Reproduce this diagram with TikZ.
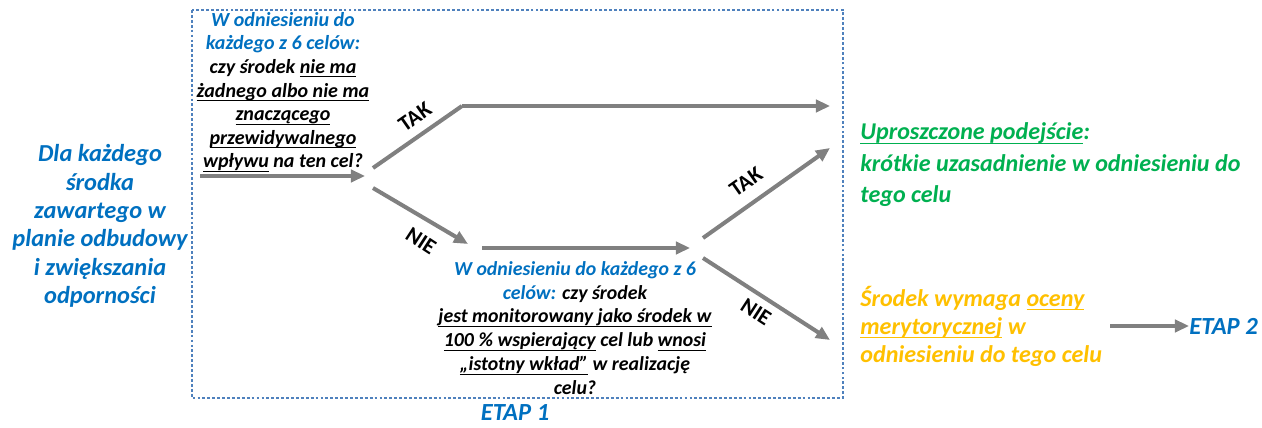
\documentclass[tikz,border=0pt]{standalone}
\usepackage{fontspec}
\setmainfont{Carlito}
\usetikzlibrary{arrows.meta}
\definecolor{etapblue}{RGB}{0,112,192}
\definecolor{okgreen}{RGB}{0,176,80}
\definecolor{warnorange}{RGB}{255,192,0}
\definecolor{arrowgray}{RGB}{128,128,128}
\definecolor{frameblue}{RGB}{79,129,189}
\newcommand\undl[1]{\setbox0\hbox{#1}\rlap{\rule[-2.3pt]{\wd0}{0.6pt}}\box0\relax}
\tikzset{
  txt/.style={font=\bfseries\itshape, inner sep=0pt},
  flow/.style={draw=arrowgray, line width=2.3pt, -{Triangle[length=8pt,width=7pt]}},
  flowline/.style={draw=arrowgray, line width=2.3pt},
  branch/.style={font=\bfseries\fontsize{12.5}{14}\selectfont, inner sep=0pt}
}

\begin{document}
\begin{tikzpicture}[x=0.02cm,y=-0.02cm]
\useasboundingbox (0,0) rectangle (1262,428);
\draw[frameblue, line width=0.6pt, dash pattern=on 1.6pt off 1.2pt] (192,10) rectangle (843,398);

\node[txt, etapblue, align=center, font=\bfseries\itshape\fontsize{13.9}{16.1}\selectfont] (dla) at (100,226)
  {Dla każdego\\środka\\zawartego w\\planie odbudowy\\i zwiększania\\odporności};

\node[txt, align=center, font=\bfseries\itshape\fontsize{11.4}{13.4}\selectfont] (pyt1) at (283,92)
  {\textcolor{etapblue}{W odniesieniu do}\\\textcolor{etapblue}{każdego z 6 celów:}\\
   czy środek \undl{nie ma}\\\undl{żadnego albo nie ma}\\\undl{znaczącego}\\
   \undl{przewidywalnego}\\\undl{wpływu} na ten cel?};

\node[txt, align=center, font=\bfseries\itshape\fontsize{11.3}{13.6}\selectfont] (pyt2) at (575,328)
  {\textcolor{etapblue}{W odniesieniu do każdego z 6}\\\textcolor{etapblue}{celów:} czy środek\\
   \undl{jest monitorowany jako środek w}\\\undl{100 \% wspierający} cel lub \undl{wnosi}\\
   \undl{„istotny wkład”} w realizację\\celu?};

\node[txt, okgreen, align=left, anchor=west, font=\bfseries\itshape\fontsize{13.7}{17.9}\selectfont] (uproszcz) at (860,165)
  {\undl{Uproszczone podejście}:\\krótkie uzasadnienie w odniesieniu do\\tego celu};

\node[txt, warnorange, align=left, anchor=west, font=\bfseries\itshape\fontsize{13.7}{15.9}\selectfont] (ocena) at (860,326)
  {Środek wymaga \undl{oceny}\\\undl{merytorycznej} w\\odniesieniu do tego celu};

\node[txt, etapblue, anchor=west, font=\bfseries\itshape\fontsize{14}{16}\selectfont] (etap2) at (1189,326) {ETAP 2};
\node[txt, etapblue, font=\bfseries\itshape\fontsize{14}{16}\selectfont] (etap1) at (515,413) {ETAP 1};

\coordinate (wej) at (200,176);
\coordinate (rozw1) at (365,176);
\coordinate (tak1a) at (373,168);
\coordinate (tak1b) at (462,106);
\coordinate (tak1c) at (830,106);
\coordinate (nie1a) at (373,188);
\coordinate (nie1b) at (468,244);
\coordinate (sr1) at (482,248);
\coordinate (sr2) at (690,248);
\coordinate (tak2a) at (703,238);
\coordinate (tak2b) at (830,148);
\coordinate (nie2a) at (703,258);
\coordinate (nie2b) at (830,340);
\coordinate (e2a) at (1110,326);

\draw[flow] (wej) -- (rozw1);
\draw[flowline] (tak1a) -- (tak1b);
\draw[flow] (tak1b) -- (tak1c);
\draw[flow] (nie1a) -- (nie1b);
\draw[flow] (sr1) -- (sr2);
\draw[flow] (tak2a) -- (tak2b);
\draw[flow] (nie2a) -- (nie2b);
\draw[flow] (e2a) -- (etap2.west);

\node[branch, rotate=35] (tak1) at (415,117) {TAK};
\node[branch, rotate=-33] (nie1) at (421,241) {NIE};
\node[branch, rotate=35] (tak2) at (746,182) {TAK};
\node[branch, rotate=-33] (nie2) at (756,312) {NIE};
\end{tikzpicture}
\end{document}
